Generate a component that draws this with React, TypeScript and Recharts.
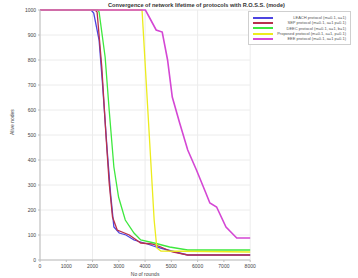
import { CartesianGrid, Legend, Line, LineChart, XAxis, YAxis } from "recharts"

const xTicks = [0, 1000, 2000, 3000, 4000, 5000, 6000, 7000, 8000]
const yTicks = [0, 100, 200, 300, 400, 500, 600, 700, 800, 900, 1000]

const seriesNames = [
  "LEACH protocol (m=0.1, a=1)",
  "SEP protocol (m=0.1, a=1 p=0.1)",
  "DEEC protocol (m=0.1, a=1, b=1)",
  "Proposed protocol (m=0.1, a=1, p=0.1)",
  "EEE protocol (m=0.1, a=1 p=0.1)",
]
const COLORS = ["#4d44e0", "#b8304c", "#3ee83e", "#ecec1c", "#d447d4"]

const blueRounds = [0, 1943, 2045, 2249, 2377, 2556, 2684, 2812, 3016, 3272, 3578, 4090, 4422, 4860, 5620, 8000]
const blueAlive = [1000, 1000, 988, 880, 708, 440, 268, 132, 108, 100, 80, 64, 52, 40, 20, 20]

const redRounds = [0, 2096, 2173, 2352, 2505, 2633, 2760, 2939, 3400, 3834, 4268, 4601, 5035, 5623, 8000]
const redAlive = [1000, 1000, 992, 772, 508, 308, 172, 120, 100, 68, 64, 52, 32, 20, 20]

const greenRounds = [0, 2200, 2249, 2479, 2633, 2812, 2990, 3246, 3578, 3834, 4345, 4933, 5623, 8000]
const greenAlive = [1000, 1000, 992, 812, 600, 372, 252, 160, 108, 80, 68, 52, 40, 40]

const yellowRounds = [0, 3884, 4038, 4192, 4345, 4447, 4601, 8000]
const yellowAlive = [1000, 1000, 720, 440, 160, 48, 36, 32]

const magentaRounds = [0, 4013, 4217, 4422, 4652, 4856, 5035, 5316, 5623, 5955, 6313, 6466, 6722, 7080, 7489, 8000]
const magentaAlive = [1000, 1000, 960, 920, 912, 800, 652, 548, 440, 360, 268, 228, 212, 132, 88, 88]

const build = (xs: number[], ys: number[]) => xs.map((x, i) => ({ x, y: ys[i] }))

const series = [
  build(blueRounds, blueAlive),
  build(redRounds, redAlive),
  build(greenRounds, greenAlive),
  build(yellowRounds, yellowAlive),
  build(magentaRounds, magentaAlive),
]

const tickStyle = { fontSize: 5, fill: "#444", fontFamily: "Liberation Sans, Arial, sans-serif" }

function LegendBox() {
  return (
    <div
      style={{
        border: "1px solid #cfcfcf",
        background: "#fff",
        padding: "3px 4px",
        fontFamily: "Liberation Sans, Arial, sans-serif",
        fontSize: 4,
        lineHeight: "5.3px",
        color: "#555",
      }}
    >
      {seriesNames.map((name, i) => (
        <div key={name} style={{ display: "flex", alignItems: "center", justifyContent: "space-between" }}>
          <span style={{ display: "inline-block", width: 20, height: 2, background: COLORS[i], marginRight: 4 }} />
          <span>{name}</span>
        </div>
      ))}
    </div>
  )
}

export default function App() {
  return (
    <div style={{ position: "absolute", left: 0, top: 0, width: 358, height: 278, background: "#fff" }}>
      <div
        style={{
          position: "absolute",
          left: 40,
          width: 313,
          top: 2,
          textAlign: "center",
          fontFamily: "Liberation Sans, Arial, sans-serif",
          fontWeight: "bold",
          fontSize: 5.6,
          color: "#333",
          zIndex: 2,
        }}
      >
        Convergence of network lifetime of protocols with R.O.S.S. (mode)
      </div>
      <LineChart width={358} height={278} margin={{ top: 10, right: 5, bottom: 0, left: 0 }}>
        <CartesianGrid stroke="#ececec" ticks={undefined} />
        <XAxis
          dataKey="x"
          type="number"
          domain={[0, 8000]}
          ticks={xTicks}
          tick={tickStyle}
          tickSize={2}
          height={18}
          stroke="#bdbdbd"
          label={{ value: "No of rounds", position: "insideBottom", offset: 2, style: tickStyle }}
        />
        <XAxis xAxisId="top" orientation="top" type="number" domain={[0, 8000]} height={0} tick={false} stroke="#bdbdbd" />
        <YAxis
          type="number"
          domain={[0, 1000]}
          ticks={yTicks}
          tick={tickStyle}
          tickSize={2}
          width={40}
          stroke="#bdbdbd"
          label={{ value: "Alive nodes", angle: -90, position: "insideLeft", offset: 12, style: tickStyle }}
        />
        <YAxis yAxisId="right" orientation="right" type="number" domain={[0, 1000]} width={0} tick={false} stroke="#bdbdbd" />
        <Legend
          verticalAlign="top"
          align="right"
          layout="vertical"
          content={() => <LegendBox />}
          wrapperStyle={{ position: "absolute", top: 11, right: 7, left: "auto", width: "auto" }}
        />
        {series.map((data, i) => (
          <Line
            key={seriesNames[i]}
            data={data}
            dataKey="y"
            name={seriesNames[i]}
            type="linear"
            stroke={COLORS[i]}
            strokeWidth={i === 4 ? 1.6 : 1.3}
            dot={false}
            isAnimationActive={false}
          />
        ))}
      </LineChart>
    </div>
  )
}
